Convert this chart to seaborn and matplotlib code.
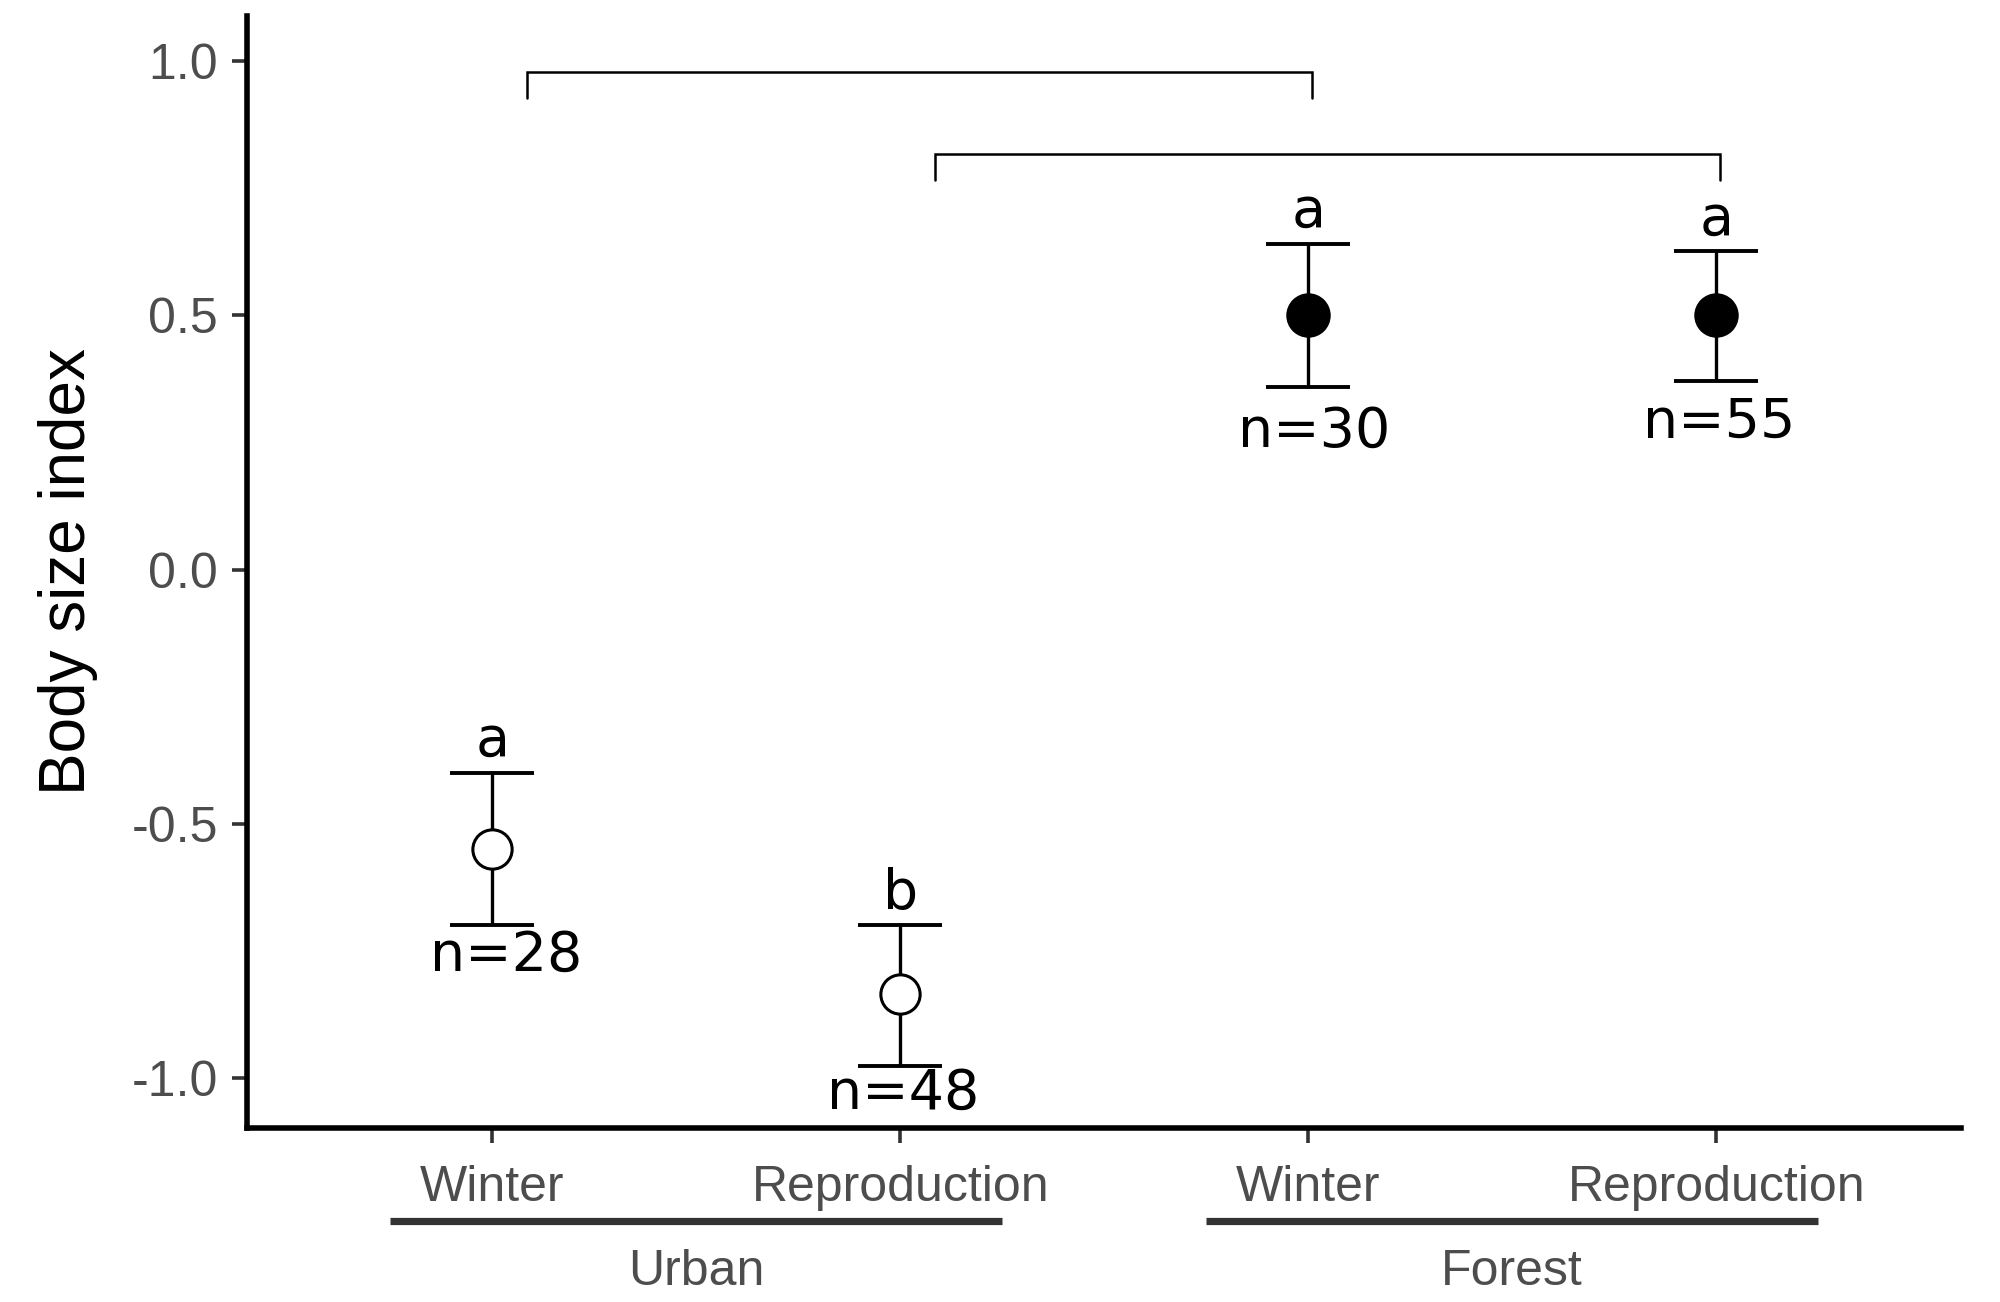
import numpy as np
import pandas as pd
import matplotlib
matplotlib.use("Agg")
import matplotlib.pyplot as plt
import seaborn as sns

# ---------------- data ----------------
habitat = ["Urban", "Urban", "Forest", "Forest"]
season = ["Winter", "Reproduction", "Winter", "Reproduction"]
mean = [-0.55, -0.836, 0.50, 0.50]
upper = [-0.40, -0.70, 0.641, 0.626]
lower = [-0.70, -0.977, 0.359, 0.371]
letters = ["a", "b", "a", "a"]
n_labels = ["n=28", "n=48", "n=30", "n=55"]
filled = [False, False, True, True]
bracket_from = [0, 1]
bracket_to = [2, 3]
bracket_y = [0.98, 0.818]
y_ticks = [-1.0, -0.5, 0.0, 0.5, 1.0]
y_tick_labels = ["-1.0", "-0.5", "0.0", "0.5", "1.0"]
groups = ["Urban", "Forest"]

df = pd.DataFrame({"habitat": habitat, "season": season, "mean": mean,
                   "upper": upper, "lower": lower, "filled": filled})
df["pos"] = np.arange(len(df))

# ---------------- style ----------------
sns.set_theme(style="ticks")
plt.rcParams["font.family"] = ["Liberation Sans", "DejaVu Sans"]

fig = plt.figure(figsize=(10, 6.51), dpi=200)
ax = fig.add_axes([0.1237, 0.134, 0.9805 - 0.1237, 0.988 - 0.134])

# error bars
ax.errorbar(df["pos"], df["mean"],
            yerr=[df["mean"] - df["lower"], df["upper"] - df["mean"]],
            fmt="none", ecolor="black", elinewidth=1.2, capsize=15,
            capthick=1.4, zorder=2)

# points
sns.scatterplot(data=df[df["filled"]], x="pos", y="mean", ax=ax,
                s=225, color="black", edgecolor="black", linewidth=1.0,
                zorder=3, legend=False)
sns.scatterplot(data=df[~df["filled"]], x="pos", y="mean", ax=ax,
                s=200, facecolor="white", edgecolor="black", linewidth=1.1,
                zorder=3, legend=False)

# significance letters
for i, row in df.iterrows():
    ax.annotate(letters[i], (row["pos"], row["upper"]), xytext=(0, 6),
                textcoords="offset points", ha="center", va="baseline",
                fontsize=20, family=["DejaVu Sans"], color="black")

# n labels
n_dx = [5, 1, 2, 1]
n_dy = [-11, -10, -16, -15]
for i, row in df.iterrows():
    ax.annotate(n_labels[i], (row["pos"], row["lower"]),
                xytext=(n_dx[i], n_dy[i]), textcoords="offset points",
                ha="center", va="center", fontsize=20,
                family=["DejaVu Sans"], color="black")

# comparison brackets
for a, b, y in zip(bracket_from, bracket_to, bracket_y):
    x0 = a + 0.085
    x1 = b + 0.01
    leg = 0.052
    ax.plot([x0, x0, x1, x1], [y - leg, y, y, y - leg], color="black",
            lw=0.9, solid_joinstyle="miter", zorder=2)

# axes
ax.set_xlim(-0.6, 3.6)
ax.set_ylim(-1.098, 1.09)
ax.set_yticks(y_ticks)
ax.set_yticklabels(y_tick_labels)
ax.set_xticks(df["pos"])
ax.set_xticklabels(season)
ax.set_xlabel("")
ax.set_ylabel("Body size index", fontsize=23, color="black")
ax.yaxis.set_label_coords(-0.087, 0.5)
for s in ["top", "right"]:
    ax.spines[s].set_visible(False)
for s in ["left", "bottom"]:
    ax.spines[s].set_linewidth(2.0)
    ax.spines[s].set_color("black")
ax.tick_params(axis="both", colors="#333333", width=1.3, length=5.5,
               labelsize=18, labelcolor="#4D4D4D")
ax.tick_params(axis="y", pad=5)
ax.tick_params(axis="x", pad=8)

# group labels
trans = ax.get_xaxis_transform()
for g in groups:
    p = df.loc[df["habitat"] == g, "pos"]
    ax.plot([p.min() - 0.25, p.max() + 0.25], [-0.084, -0.084],
            transform=trans, color="#333333", lw=2.6, clip_on=False,
            solid_capstyle="butt")
    ax.text((p.min() + p.max()) / 2, -0.130, g, transform=trans,
            ha="center", va="center", fontsize=18, color="#4D4D4D")

fig.savefig("out.png", dpi=200, facecolor="white")
